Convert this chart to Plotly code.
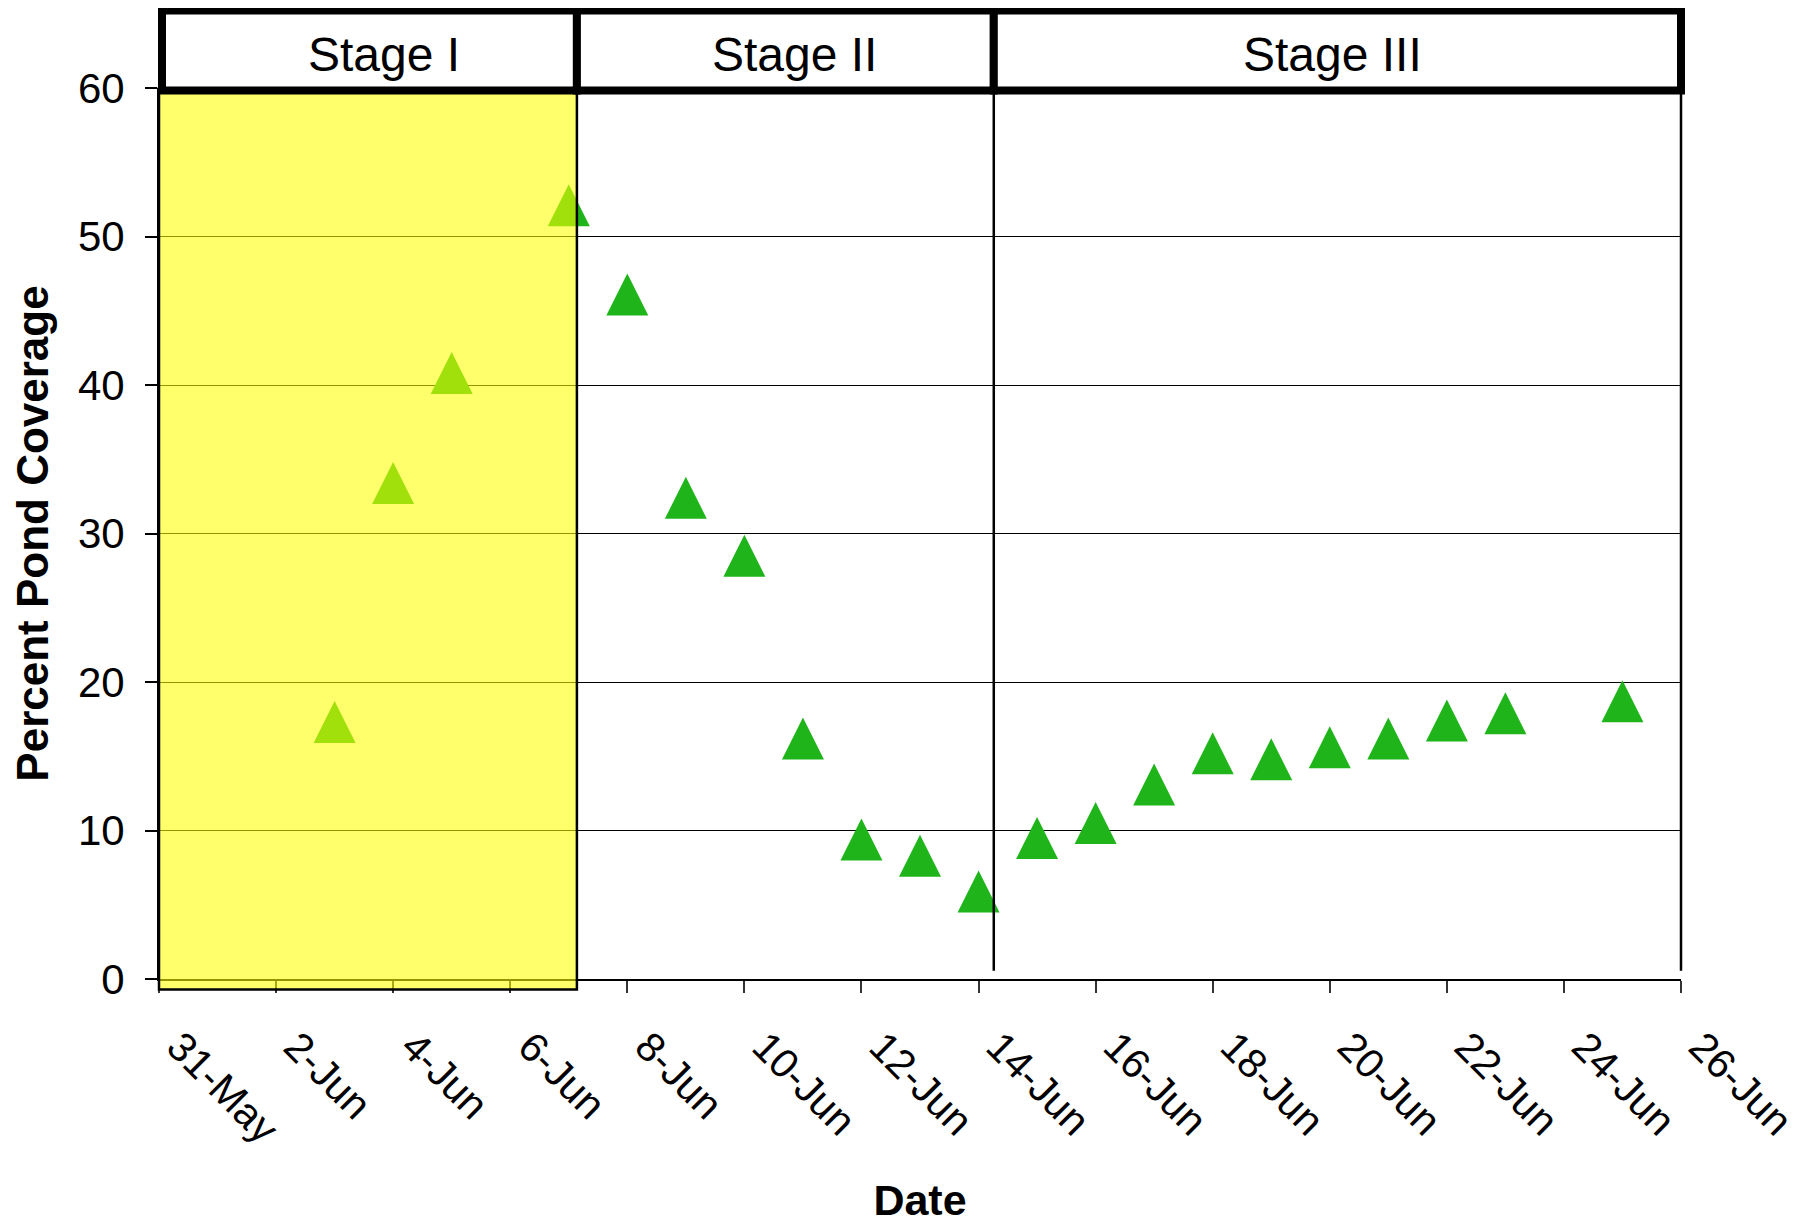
import plotly.graph_objects as go
from datetime import datetime

# ---------------- data ----------------
dates = ["2008-06-03", "2008-06-04", "2008-06-05", "2008-06-07", "2008-06-08",
         "2008-06-09", "2008-06-10", "2008-06-11", "2008-06-12", "2008-06-13",
         "2008-06-14", "2008-06-15", "2008-06-16", "2008-06-17", "2008-06-18",
         "2008-06-19", "2008-06-20", "2008-06-21", "2008-06-22", "2008-06-23",
         "2008-06-25"]
coverage = [17.3, 33.4, 40.8, 52.1, 46.1,
            32.4, 28.5, 16.2, 9.4, 8.3,
            5.9, 9.5, 10.5, 13.1, 15.2,
            14.8, 15.6, 16.2, 17.4, 17.9,
            18.7]

tick_dates = ["2008-05-31", "2008-06-02", "2008-06-04", "2008-06-06", "2008-06-08",
              "2008-06-10", "2008-06-12", "2008-06-14", "2008-06-16", "2008-06-18",
              "2008-06-20", "2008-06-22", "2008-06-24", "2008-06-26"]
tick_labels = ["31-May", "2-Jun", "4-Jun", "6-Jun", "8-Jun",
               "10-Jun", "12-Jun", "14-Jun", "16-Jun", "18-Jun",
               "20-Jun", "22-Jun", "24-Jun", "26-Jun"]

stage_names = ["Stage I", "Stage II", "Stage III"]
stage_starts = ["2008-05-31 00:00", "2008-06-07 03:20", "2008-06-14 06:15"]
stage_ends = ["2008-06-07 03:20", "2008-06-14 06:15", "2008-06-26 00:00"]

x_range = ["2008-05-31", "2008-06-26"]
y_range = [0, 60]

# ---------------- helpers ----------------
FONT = "Liberation Sans, Arial, sans-serif"
GREEN = "#1FB51A"
t0 = datetime.fromisoformat(x_range[0])
t1 = datetime.fromisoformat(x_range[1])


def px_x(d):
    t = datetime.fromisoformat(d)
    return (t - t0).total_seconds() / (t1 - t0).total_seconds()


def py_y(v):
    return (v - y_range[0]) / (y_range[1] - y_range[0])


# page has an 8px body margin, so the figure is 8px smaller
W, H = 1794, 1216
ML, MR, MT, MB = 151, 121, 80, 245
plot_h = H - MT - MB
HEADER_TOP = 1 + 77.5 / plot_h
HEADER_BOT = 1 - 2.5 / plot_h

fig = go.Figure()
fig.add_trace(go.Scatter(
    x=dates, y=coverage, mode="markers",
    marker=dict(symbol="arrow-down", angle=180, standoff=21, size=42,
                color=GREEN, line=dict(width=0)),
    showlegend=False, hoverinfo="x+y",
))

shapes = []
# yellow Stage I region (drawn over the markers)
shapes.append(dict(type="rect", xref="paper", yref="paper",
                   x0=px_x(stage_starts[0]), x1=px_x(stage_ends[0]),
                   y0=py_y(-0.7), y1=1,
                   fillcolor="rgba(255,255,0,0.58)",
                   line=dict(color="black", width=2.5), layer="above"))
# vertical divider for Stage III and right border
for xd in [stage_starts[2], stage_ends[2]]:
    shapes.append(dict(type="line", xref="paper", yref="paper",
                       x0=px_x(xd), x1=px_x(xd), y0=py_y(0.55), y1=1,
                       line=dict(color="black", width=2.5), layer="above"))
# header boxes
annotations = []
label_shift = [15, 9, -5]
for i, name in enumerate(stage_names):
    x0 = px_x(stage_starts[i])
    x1 = px_x(stage_ends[i])
    if i == 0:
        x0 += 3 / (W - ML - MR)
    shapes.append(dict(type="rect", xref="paper", yref="paper",
                       x0=x0, x1=x1, y0=HEADER_BOT, y1=HEADER_TOP,
                       fillcolor="white",
                       line=dict(color="black", width=8), layer="above"))
    annotations.append(dict(xref="paper", yref="paper",
                            x=(x0 + x1) / 2, y=(HEADER_BOT + HEADER_TOP) / 2,
                            xanchor="center", yanchor="middle",
                            xshift=label_shift[i], yshift=-4,
                            text=name, showarrow=False,
                            font=dict(family=FONT, size=48, color="black")))

fig.update_layout(
    width=W, height=H,
    margin=dict(l=ML, r=MR, t=MT, b=MB, autoexpand=False),
    paper_bgcolor="white", plot_bgcolor="white",
    font=dict(family=FONT, color="black"),
    shapes=shapes, annotations=annotations,
    showlegend=False,
)

fig.update_xaxes(
    type="date", range=x_range,
    tickmode="array", tickvals=tick_dates, ticktext=tick_labels,
    tickangle=45, tickfont=dict(family=FONT, size=41, color="black"),
    ticklabelstandoff=13, ticklabelshift=20, ticklabeloverflow="allow",
    ticks="outside", ticklen=12, tickwidth=1.5, tickcolor="#333",
    showgrid=False, zeroline=False,
    showline=True, linecolor="black", linewidth=2,
    title=dict(text="<b>Date</b>", font=dict(family=FONT, size=43, color="black"),
               standoff=45),
    automargin=False,
)
fig.update_yaxes(
    range=y_range, tick0=0, dtick=10,
    tickfont=dict(family=FONT, size=42, color="black"),
    ticklabelstandoff=12,
    ticks="outside", ticklen=12, tickwidth=1.5, tickcolor="black",
    showgrid=True, gridcolor="black", gridwidth=1.2,
    zeroline=False, showline=True, linecolor="black", linewidth=2,
    title=dict(text="<b>Percent Pond Coverage</b>",
               font=dict(family=FONT, size=44, color="black"), standoff=18),
    automargin=False,
)

fig.write_html("out.html")
